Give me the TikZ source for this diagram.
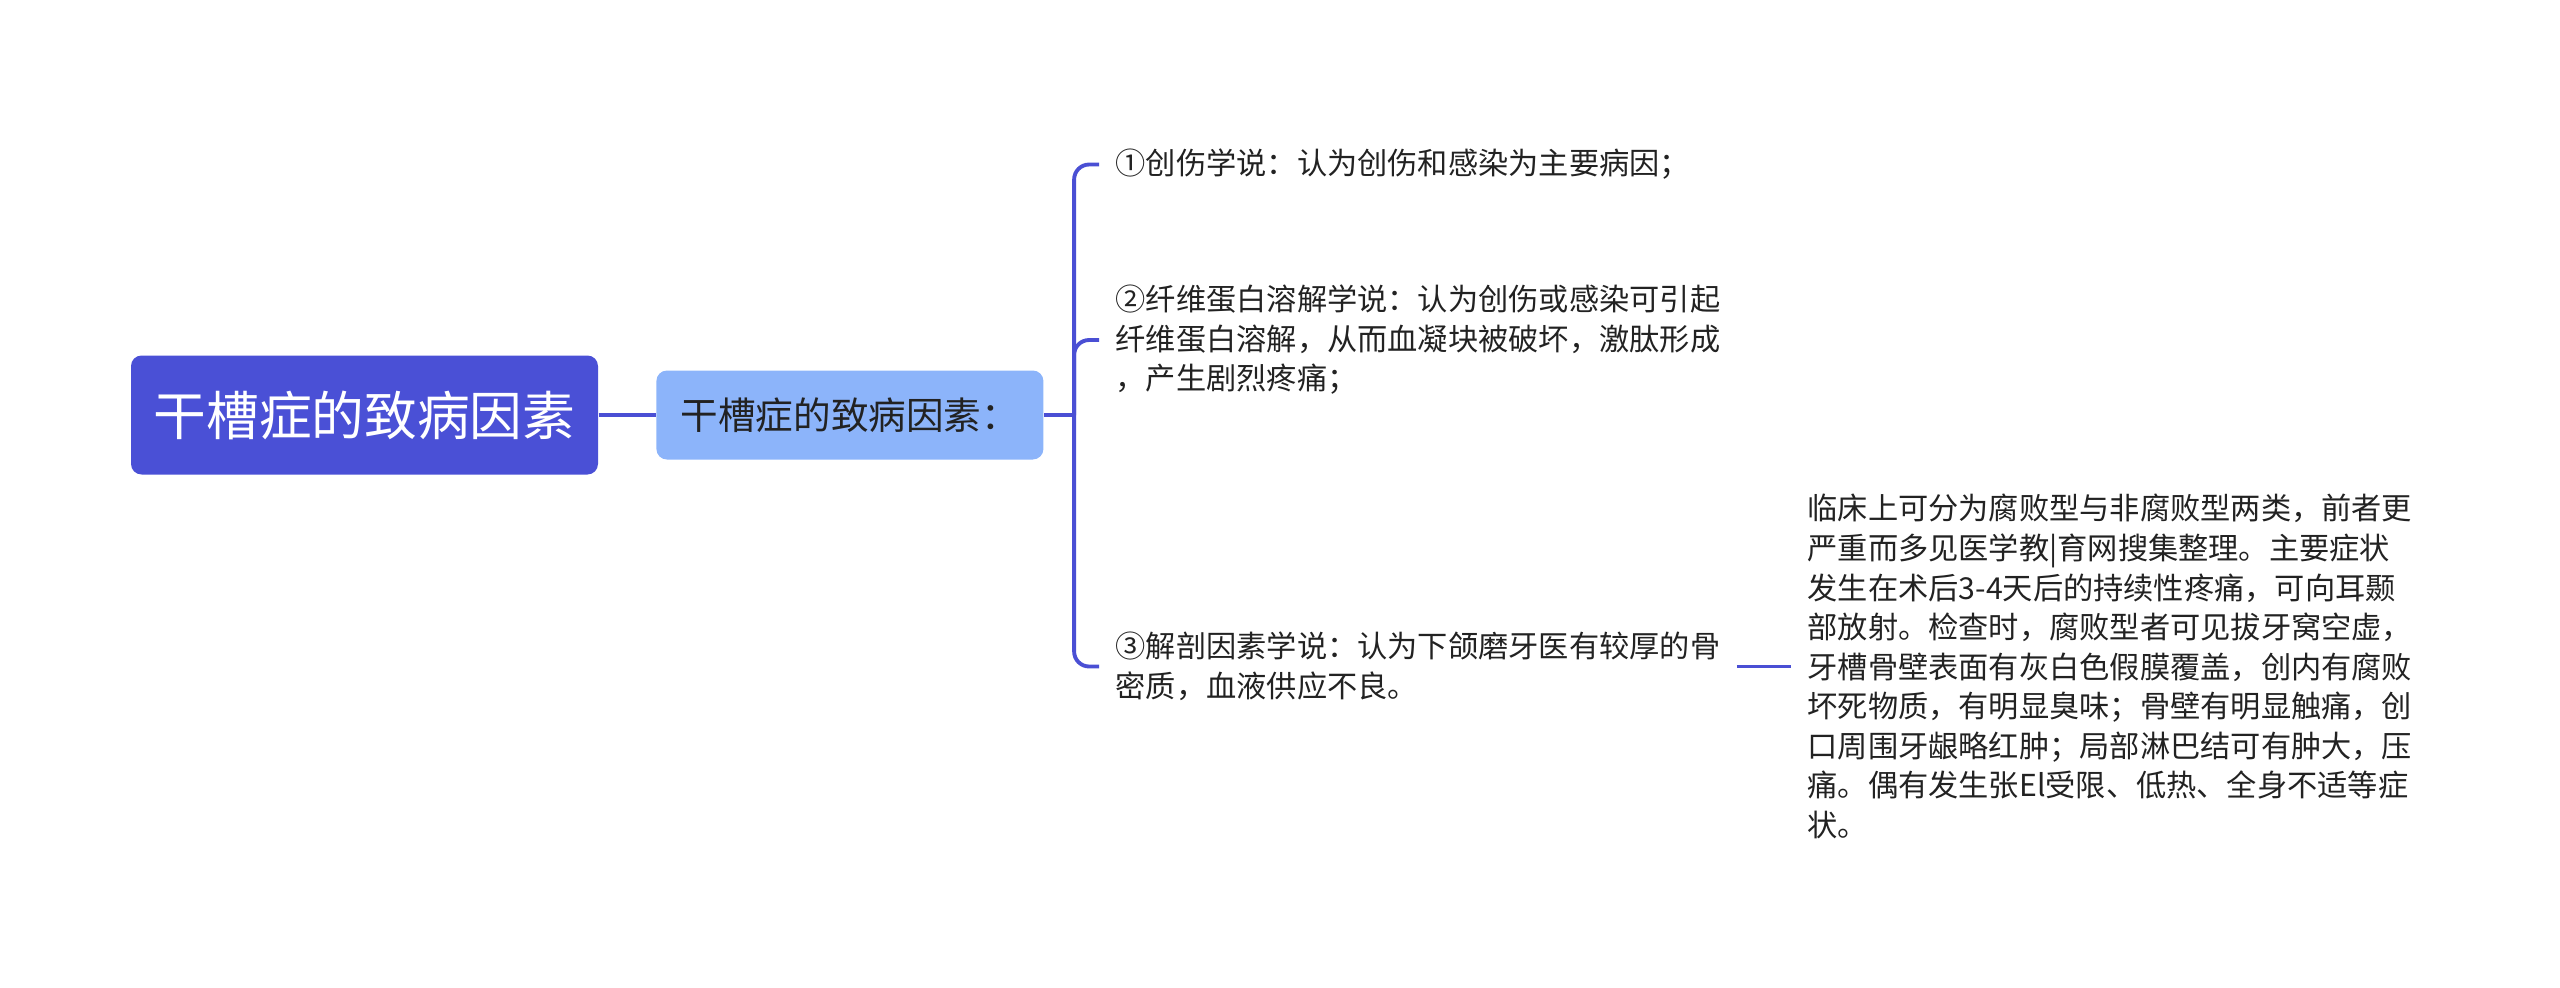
\documentclass[tikz,border=0pt]{standalone}
\usepackage{fontspec}
\setmainfont{Noto Sans CJK SC}
\usetikzlibrary{positioning}
\definecolor{RootBlue}{HTML}{4A50D6}
\definecolor{SubBlue}{HTML}{8CB4FA}
\definecolor{LinkBlue}{HTML}{4A4FD4}
\definecolor{TextDark}{HTML}{222222}

\begin{document}
\begin{tikzpicture}[
    font=\fontsize{8.6pt}{11.25pt}\selectfont,
    root/.style={rectangle, rounded corners=3pt, fill=RootBlue, text=white, minimum width=4.67cm, minimum height=1.19cm, font=\fontsize{15pt}{18pt}\selectfont},
    sub/.style={rectangle, rounded corners=3pt, fill=SubBlue, text=TextDark, minimum width=3.87cm, minimum height=0.89cm, font=\fontsize{10.7pt}{13pt}\selectfont},
    leafnode/.style={align=left, text=TextDark, inner xsep=0.16cm, inner ysep=2pt, anchor=west},
    link/.style={draw=LinkBlue, line width=1.1pt},
    fork/.style={link, rounded corners=0.15cm}
]
\useasboundingbox (0,0) rectangle (25.6,-9.87);

\node[root] (root) at (3.645,-4.15) {干槽症的致病因素};
\node[sub, right=0.57cm of root] (cause) {干槽症的致病因素：};
\coordinate[right=0.30cm of cause] (forkpt);

\node[leafnode] (trauma) at (10.99,-1.645) {①创伤学说：认为创伤和感染为主要病因；};
\node[leafnode] (fibrin) at (10.99,-3.40) {②纤维蛋白溶解学说：认为创伤或感染可引起\\纤维蛋白溶解，从而血凝块被破坏，激肽形成\\，产生剧烈疼痛；};
\node[leafnode] (anatomy) at (10.99,-6.665) {③解剖因素学说：认为下颌磨牙医有较厚的骨\\密质，血液供应不良。};
\node[leafnode, right=0.54cm of anatomy] (clinic) {临床上可分为腐败型与非腐败型两类，前者更\\严重而多见医学教|育网搜集整理。主要症状\\发生在术后3-4天后的持续性疼痛，可向耳颞\\部放射。检查时，腐败型者可见拔牙窝空虚，\\牙槽骨壁表面有灰白色假膜覆盖，创内有腐败\\坏死物质，有明显臭味；骨壁有明显触痛，创\\口周围牙龈略红肿；局部淋巴结可有肿大，压\\痛。偶有发生张El受限、低热、全身不适等症\\状。};

\draw[link] (root) -- (cause);
\draw[link] (cause) -- (forkpt);
\draw[fork] (forkpt) |- (trauma.west);
\draw[fork] (forkpt) |- (fibrin.west);
\draw[fork] (forkpt) |- (anatomy.west);
\draw[link] (anatomy) -- (clinic);
\end{tikzpicture}
\end{document}
